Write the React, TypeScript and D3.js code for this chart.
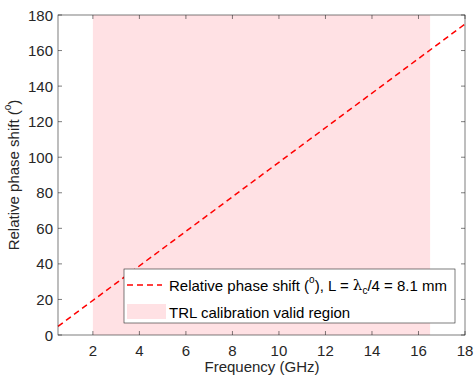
import React from "react";
import * as d3 from "d3";

const freqGHz = [0.5, 18];
const phaseDeg = [4.86, 174.9];
const validRegion = [2, 16.5];
const xTicks = [2, 4, 6, 8, 10, 12, 14, 16, 18];
const yTicks = [0, 20, 40, 60, 80, 100, 120, 140, 160, 180];

export default function App() {
  const W = 475, H = 379;
  const m = { l: 58, t: 15, r: 465, b: 335 };
  const x = d3.scaleLinear().domain([0.5, 18]).range([m.l, m.r]);
  const y = d3.scaleLinear().domain([0, 180]).range([m.b, m.t]);
  const pts = freqGHz.map((f, i) => [f, phaseDeg[i]] as [number, number]);
  const line = d3.line<[number, number]>().x(d => x(d[0])).y(d => y(d[1]));
  const axisCol = "#262626";
  const font = "'Liberation Sans', Arial, sans-serif";
  const tl = 4;
  const fs = 15;
  return (
    <svg width={W} height={H} style={{ position: "absolute", left: 0, top: 0, background: "#fff" }} fontFamily={font}>
      <rect x={0} y={0} width={W} height={H} fill="#fff" />
      <rect x={x(validRegion[0])} y={m.t} width={x(validRegion[1]) - x(validRegion[0])} height={m.b - m.t} fill="#ffe1e4" />
      <path d={line(pts) || ""} fill="none" stroke="#ff0000" strokeWidth={1.5} strokeDasharray="6,4" />
      {xTicks.map(t => (
        <g key={"x" + t}>
          <line x1={x(t)} x2={x(t)} y1={m.b} y2={m.b - tl} stroke={axisCol} strokeWidth={0.6} />
          <line x1={x(t)} x2={x(t)} y1={m.t} y2={m.t + tl} stroke={axisCol} strokeWidth={0.6} />
          <text x={x(t)} y={350} textAnchor="middle" dominantBaseline="central" fontSize={fs} fill={axisCol}>{t}</text>
        </g>
      ))}
      {yTicks.map(t => (
        <g key={"y" + t}>
          <line x1={m.l} x2={m.l + tl} y1={y(t)} y2={y(t)} stroke={axisCol} strokeWidth={0.6} />
          <line x1={m.r} x2={m.r - tl} y1={y(t)} y2={y(t)} stroke={axisCol} strokeWidth={0.6} />
          <text x={53} y={y(t)} textAnchor="end" dominantBaseline="central" fontSize={fs} fill={axisCol}>{t}</text>
        </g>
      ))}
      <rect x={m.l} y={m.t} width={m.r - m.l} height={m.b - m.t} fill="none" stroke={axisCol} strokeWidth={0.6} />
      <text x={262} y={366} textAnchor="middle" dominantBaseline="central" fontSize={fs} fill={axisCol}>Frequency (GHz)</text>
      <text transform={`translate(13,175) rotate(-90)`} textAnchor="middle" dominantBaseline="central" fontSize={fs} fill={axisCol}>
        Relative phase shift (<tspan baselineShift="super" fontSize={10}>o</tspan>)
      </text>
      <g>
        <rect x={124} y={269} width={331} height={54} fill="#fff" stroke={axisCol} strokeWidth={0.6} />
        <line x1={127} x2={162} y1={285} y2={285} stroke="#ff0000" strokeWidth={1.5} strokeDasharray="6,4" />
        <text x={169} y={285} dominantBaseline="central" fontSize={fs} fill="#000">
          Relative phase shift (<tspan baselineShift="super" fontSize={10}>o</tspan>), L = <tspan fontFamily="'DejaVu Serif', serif">λ</tspan><tspan baselineShift="sub" fontSize={10}>c</tspan>/4 = 8.1 mm
        </text>
        <rect x={127} y={304} width={39} height={15} fill="#ffe1e4" />
        <text x={169} y={312} dominantBaseline="central" fontSize={fs} fill="#000">TRL calibration valid region</text>
      </g>
    </svg>
  );
}
